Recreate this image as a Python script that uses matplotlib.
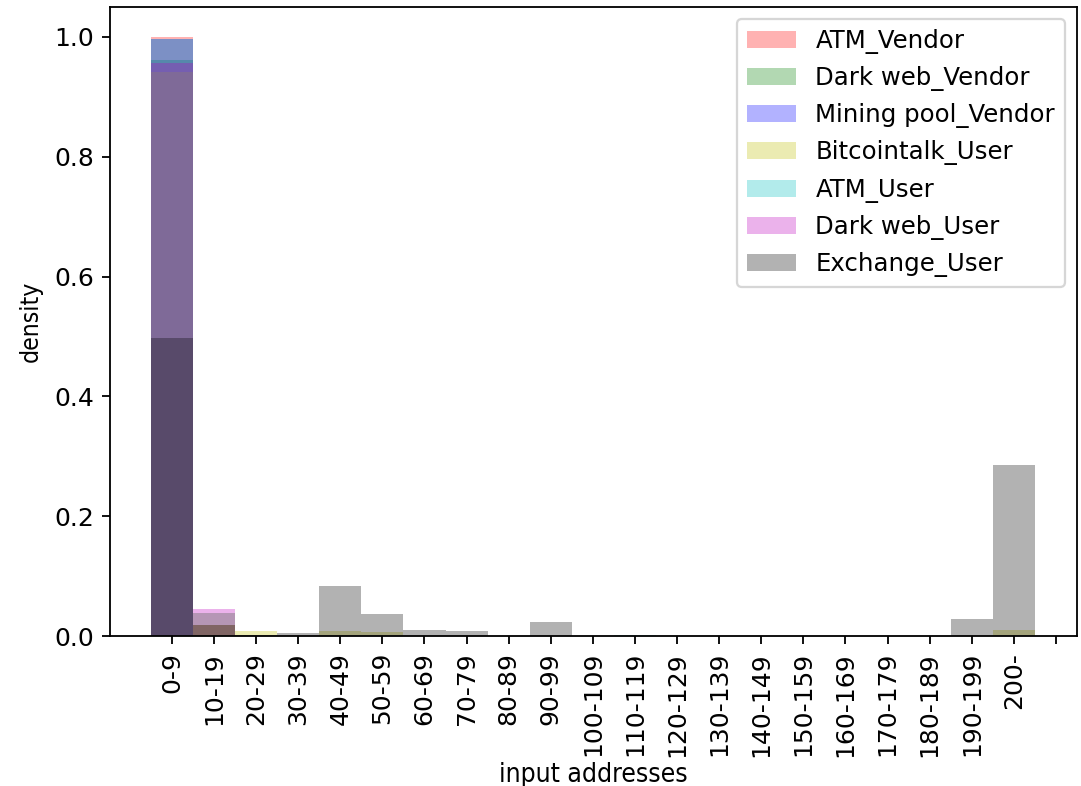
import matplotlib
matplotlib.use("Agg")
import matplotlib.pyplot as plt
import numpy as np

# Bin labels for the number of input addresses per transaction
bins = ["0-9", "10-19", "20-29", "30-39", "40-49", "50-59", "60-69", "70-79",
        "80-89", "90-99", "100-109", "110-119", "120-129", "130-139", "140-149",
        "150-159", "160-169", "170-179", "180-189", "190-199", "200-"]
tick_labels = bins + [""]

# Density per bin for each entity type
atm_vendor = [1.000, 0, 0, 0, 0, 0, 0, 0, 0, 0, 0, 0, 0, 0, 0, 0, 0, 0, 0, 0, 0]
darkweb_vendor = [0.962, 0.038, 0, 0, 0, 0, 0, 0, 0, 0, 0, 0, 0, 0, 0, 0, 0, 0, 0, 0, 0]
miningpool_vendor = [0.996, 0, 0, 0, 0, 0, 0, 0, 0, 0, 0, 0, 0, 0, 0, 0, 0, 0, 0, 0, 0]
bitcointalk_user = [0.942, 0.018, 0.008, 0, 0.008, 0.006, 0, 0, 0, 0, 0, 0, 0, 0, 0, 0, 0, 0, 0, 0, 0.010]
atm_user = [0.996, 0, 0, 0, 0, 0, 0, 0, 0, 0, 0, 0.002, 0, 0, 0, 0, 0, 0, 0, 0, 0]
darkweb_user = [0.956, 0.045, 0, 0, 0, 0, 0, 0, 0, 0, 0, 0, 0, 0, 0, 0, 0, 0, 0, 0, 0]
exchange_user = [0.497, 0.018, 0.002, 0.005, 0.083, 0.037, 0.010, 0.008, 0, 0.023, 0, 0, 0, 0, 0, 0, 0, 0, 0, 0.028, 0.286]

series = [
    ("ATM_Vendor", atm_vendor, "r"),
    ("Dark web_Vendor", darkweb_vendor, "g"),
    ("Mining pool_Vendor", miningpool_vendor, "b"),
    ("Bitcointalk_User", bitcointalk_user, "y"),
    ("ATM_User", atm_user, "c"),
    ("Dark web_User", darkweb_user, "m"),
    ("Exchange_User", exchange_user, "k"),
]

plt.rcParams["font.size"] = 11

dpi = 164
fig = plt.figure(figsize=(1081 / dpi, 786 / dpi), dpi=dpi)
ax = fig.add_axes([110 / 1081, 1 - 636 / 786, (1077 - 110) / 1081, (636 - 7) / 786])

x = np.arange(len(bins))
for name, vals, color in series:
    ax.bar(x, vals, width=1.0, color=color, alpha=0.3, label=name)

ax.set_xticks(np.arange(len(tick_labels)))
ax.set_xticklabels(tick_labels, rotation=90)
ax.set_xlim(-1.47, 21.5)
ax.set_ylim(0, 1.05)
ax.set_xlabel("input addresses", fontsize=11.6, fontstretch="condensed", labelpad=2.4)
ax.set_ylabel("density", fontsize=10.8, fontstretch="condensed", labelpad=5)
ax.legend(loc="upper right", fontsize=10.7)

fig.savefig("out.png", dpi=dpi)
